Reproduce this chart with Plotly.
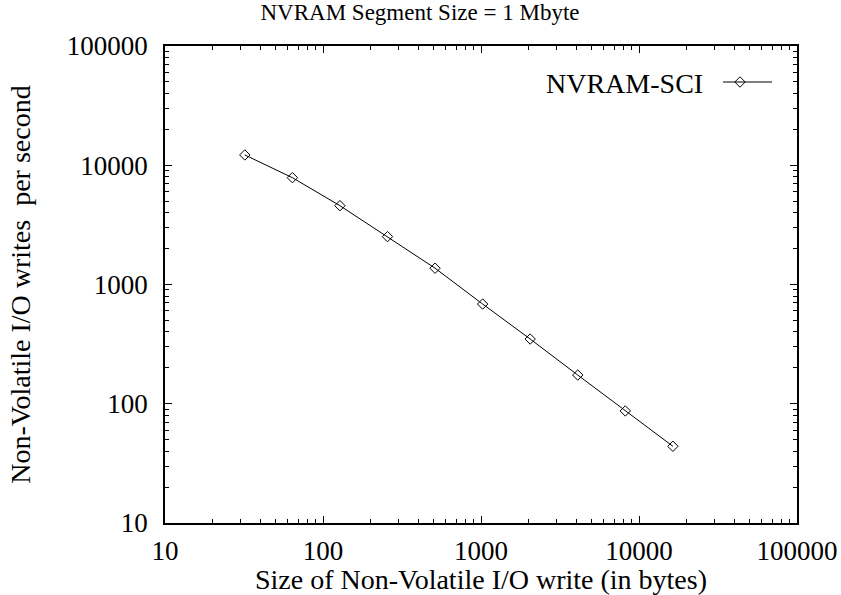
import plotly.graph_objects as go

# Write size in bytes and measured non-volatile write rate
write_size = [32, 64, 128, 256, 512, 1024, 2048, 4096, 8192, 16384]
writes_per_sec = [12200, 7870, 4580, 2520, 1370, 686, 349, 174, 87, 44]
series_name = "NVRAM-SCI"

decade_ticks = [10, 100, 1000, 10000, 100000]
decade_labels = ["10", "100", "1000", "10000", "100000"]

FONT = "Liberation Serif, Times New Roman, serif"

fig = go.Figure()
fig.add_trace(go.Scatter(
    x=write_size, y=writes_per_sec, mode="lines+markers", name=series_name,
    line=dict(color="black", width=1),
    marker=dict(symbol="diamond-open", size=8, color="black", line=dict(width=1)),
    showlegend=False,
))

axis_common = dict(
    type="log", showgrid=False, zeroline=False, automargin=False,
    showline=True, linecolor="black", linewidth=1.5, mirror="allticks",
    ticks="inside", ticklen=7, tickwidth=1.2, tickcolor="black",
    tickvals=decade_ticks, ticktext=decade_labels,
    tickfont=dict(family=FONT, size=27, color="black"),
    minor=dict(ticks="inside", ticklen=4, tickwidth=1, tickcolor="black",
               dtick="D1", showgrid=False),
)

fig.update_xaxes(range=[1, 5], ticklabelstandoff=3,
                 title=dict(text="Size of Non-Volatile I/O write (in bytes)",
                            font=dict(family=FONT, size=28, color="black"), standoff=0),
                 **axis_common)
fig.update_yaxes(range=[1, 5], ticklabelstandoff=10,
                 title=dict(text="Non-Volatile I/O writes  per second",
                            font=dict(family=FONT, size=28, color="black"), standoff=28),
                 **axis_common)

# Key: label on the left, line sample with a marker on the right
ky = (523 - 83) / 477
fig.add_annotation(xref="paper", yref="paper", x=(705 - 165) / 632, y=ky,
                   text=series_name, showarrow=False, xanchor="right", yanchor="middle",
                   font=dict(family=FONT, size=28, color="black"))
fig.add_shape(type="line", xref="paper", yref="paper",
              x0=(723 - 165) / 632, x1=(772 - 165) / 632,
              y0=(523 - 82) / 477, y1=(523 - 82) / 477,
              line=dict(color="black", width=1))
fig.add_trace(go.Scatter(
    x=[(740 - 165) / 632], y=[(523 - 82) / 477], xaxis="x2", yaxis="y2", mode="markers",
    marker=dict(symbol="diamond-open", size=8, color="black", line=dict(width=1)),
    showlegend=False, hoverinfo="skip",
))

fig.update_layout(
    width=841, height=595,
    margin=dict(l=165, r=44, t=46, b=72, autoexpand=False),
    paper_bgcolor="white", plot_bgcolor="white",
    xaxis2=dict(overlaying="x", range=[0, 1], visible=False),
    yaxis2=dict(overlaying="y", range=[0, 1], visible=False),
    title=dict(text="NVRAM Segment Size = 1 Mbyte", x=420 / 841, xref="container",
               xanchor="center", y=1 - 12 / 595, yanchor="middle",
               font=dict(family=FONT, size=23, color="black")),
    font=dict(family=FONT, color="black"),
)

fig.write_html("out.html")
